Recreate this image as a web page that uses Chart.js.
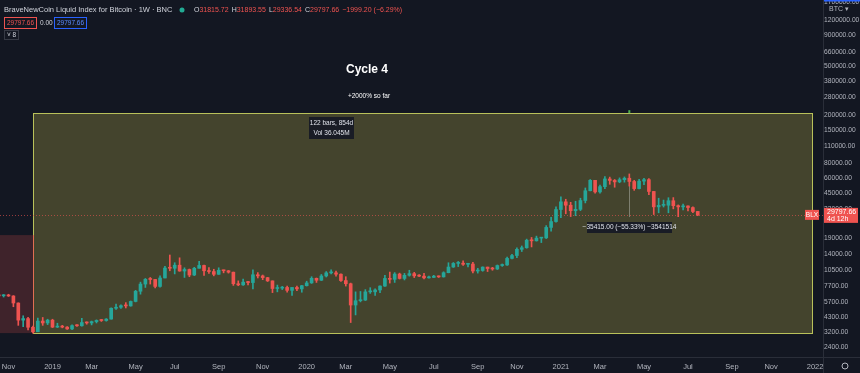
<!DOCTYPE html>
<html>
<head>
<meta charset="utf-8">
<title>BLX 1W</title>
<style>
  html, body { margin: 0; padding: 0; background: #131722; }
  #wrap { width: 860px; height: 373px; }
</style>
<script src="https://cdn.jsdelivr.net/npm/chart.js@4.4.0/dist/chart.umd.min.js"></script>
</head>
<body>
<div id="wrap"><canvas id="chart" width="860" height="373"></canvas></div>
<script>
// weekly candles, index 0 = week of 22 Oct 2018, last = week of 19 Jul 2021
var opens = [6410, 6400, 6420, 6380, 5580, 4030, 4150, 3520, 3230, 3960, 3820, 4030, 3530, 3550, 3530, 3410, 3630, 3620, 3850, 3820,
  3920, 4010, 4000, 4110, 5050, 5150, 5300, 5280, 5750, 6980, 8000, 8750, 8730, 7650, 8980, 10900, 10800, 11450, 10250, 10550,
  9500, 10800, 11400, 10300, 10150, 9630, 10400, 10300, 10030, 8050, 7880, 8300, 8230, 9550, 9340, 9040, 8500, 7350, 7400, 7500,
  7100, 7500, 7300, 7760, 8180, 8920, 8600, 9330, 9900, 9900, 9650, 8550, 8050, 5370, 5830, 5900, 6900, 6900, 7150, 7700,
  8900, 8750, 9680, 8900, 9450, 9750, 9350, 9300, 9000, 9080, 9300, 9170, 9930, 11060, 11850, 11900, 11650, 11700, 10250, 10350,
  11050, 10750, 10650, 11380, 11500, 13030, 13760, 15480, 15960, 18400, 18200, 19150, 19250, 23480, 26250, 33000, 38200, 35800, 32250, 33100,
  39150, 47150, 57450, 46100, 50950, 59000, 57350, 55800, 58200, 59800, 56200, 49100, 56600, 58200, 46500, 34700, 35700, 35800, 39000, 35500,
  34700, 35300, 34250, 31815.72];
var highs = [6480, 6560, 6590, 6420, 5600, 4380, 4250, 3600, 4200, 4240, 4100, 4100, 3800, 3650, 3560, 3680, 3700, 4180, 3900, 3960,
  4050, 4090, 4150, 5100, 5460, 5400, 5620, 5800, 7100, 8300, 8900, 9070, 8750, 9350, 11200, 13900, 12000, 13180, 10900, 10650,
  11000, 12300, 11450, 10950, 10600, 10900, 10450, 10360, 10050, 8500, 8800, 8420, 10500, 9950, 9500, 9090, 8500, 7850, 7650, 7700,
  7500, 7700, 7800, 8450, 9200, 8980, 9600, 10150, 10500, 10250, 9700, 9200, 8150, 6900, 6950, 7200, 7470, 7300, 7750, 9450,
  10050, 9950, 9850, 9800, 10400, 10000, 9600, 9800, 9300, 9450, 9350, 10100, 12000, 12050, 12300, 12450, 11800, 12100, 10800, 11100,
  11050, 11000, 11500, 11720, 13350, 14100, 15950, 16500, 18800, 19400, 19900, 19400, 24300, 28400, 34800, 41950, 40100, 37850, 38600, 40900,
  49700, 58350, 57500, 52600, 61800, 61100, 58400, 60200, 61300, 64900, 57500, 58500, 59600, 59500, 46600, 40900, 39500, 41300, 41400, 36000,
  36600, 35400, 34650, 31893.55];
var lows = [6330, 6250, 6320, 5200, 3650, 3560, 3350, 3150, 3230, 3650, 3700, 3500, 3500, 3480, 3380, 3370, 3570, 3600, 3730, 3680,
  3820, 3930, 3950, 4100, 4950, 5040, 5080, 5250, 5700, 6600, 7500, 8000, 7450, 7550, 8970, 10300, 9700, 10200, 9070, 9200,
  9400, 10800, 9450, 9800, 9350, 9600, 9900, 9850, 7800, 7750, 7800, 7860, 7300, 8980, 8700, 8400, 6800, 6900, 7200, 6850,
  6450, 7050, 6850, 7700, 8100, 8250, 8550, 9150, 9700, 9300, 8400, 7700, 3850, 4450, 5700, 5850, 6700, 6460, 6800, 7650,
  8150, 8250, 8800, 8650, 9300, 9050, 9200, 8830, 8950, 9050, 9070, 9130, 9900, 10980, 11150, 11400, 11100, 9900, 9850, 10200,
  10150, 10400, 10550, 11200, 11400, 12900, 13200, 14850, 15800, 16200, 18100, 17600, 19000, 21900, 26000, 28200, 30400, 28850, 29350, 32300,
  37400, 47000, 44950, 45000, 49150, 53300, 50400, 54900, 55500, 51500, 47500, 48800, 53000, 43800, 30000, 31000, 34600, 31000, 33400, 28800,
  32700, 32100, 31100, 29336.54];
var closes = [6400, 6420, 6380, 5580, 4030, 4150, 3520, 3230, 3960, 3820, 4030, 3530, 3550, 3530, 3410, 3630, 3620, 3850, 3820, 3920,
  4010, 4000, 4110, 5050, 5150, 5300, 5280, 5750, 6980, 8000, 8750, 8730, 7650, 8980, 10850, 10800, 11450, 10250, 10550, 9500,
  10800, 11400, 10300, 10150, 9630, 10400, 10300, 10030, 8050, 7880, 8300, 8230, 9550, 9340, 9040, 8500, 7350, 7400, 7500, 7100,
  7500, 7300, 7760, 8180, 8920, 8600, 9330, 9900, 9900, 9650, 8550, 8050, 5370, 5830, 5900, 6900, 6900, 7150, 7700, 8900,
  8750, 9680, 8900, 9450, 9750, 9350, 9300, 9000, 9080, 9300, 9170, 9930, 11060, 11850, 11900, 11650, 11700, 10250, 10350, 11050,
  10750, 10650, 11380, 11500, 13030, 13760, 15480, 15960, 18400, 18200, 19150, 19250, 23480, 26250, 33000, 38200, 35800, 32250, 33100, 39150,
  47150, 57450, 46100, 50950, 59000, 57350, 55800, 58200, 59800, 56200, 49100, 56600, 58200, 46500, 34700, 35700, 35800, 39000, 35500, 34700,
  35300, 34250, 31796.86, 29797.66];

// axis ticks
var monthWeeks = [2, 11, 19, 28, 36, 45, 54, 63, 71, 80, 89, 98, 106, 115, 123, 132, 141, 150, 158, 167];
var monthNames = ['Nov', '2019', 'Mar', 'May', 'Jul', 'Sep', 'Nov', '2020', 'Mar', 'May', 'Jul', 'Sep', 'Nov', '2021', 'Mar', 'May', 'Jul', 'Sep', 'Nov', '2022'];
var priceTicks = [2400, 3200, 4300, 5700, 7700, 10500, 14000, 19000, 33000, 45000, 60000, 80000, 110000, 150000,
  200000, 280000, 380000, 500000, 660000, 900000, 1200000, 1700000];

// drawings: [from week, to week, low price, high price]
var cycleBox = [7, 166.4, 3150, 206000];
var prevCycleBox = [-1, 7, 3150, 20300];
// price range tool: [week, from price, to price]
var priceRange = [129, 64007, 28592];

var UP = '#26a69a', DOWN = '#ef5350';
var FONT = "'Liberation Sans', Arial, sans-serif";

var n = closes.length;
var bodies = [], wicks = [], colors = [];
for (var i = 0; i < n; i++) {
    bodies.push({ x: i, y: [opens[i], closes[i]] });
    wicks.push({ x: i, y: [lows[i], highs[i]] });
    colors.push(closes[i] >= opens[i] ? UP : DOWN);
}

function text(ctx, s, x, y, font, color, align) {
    ctx.font = font;
    ctx.fillStyle = color;
    ctx.textAlign = align || 'left';
    ctx.textBaseline = 'middle';
    ctx.fillText(s, x, y);
    return ctx.measureText(s).width;
}

function fmt(v) {
    return v.toFixed(2);
}

function noPadding(scale) {
    scale.paddingLeft = 0;
    scale.paddingRight = 0;
    scale.paddingTop = 0;
    scale.paddingBottom = 0;
}

var drawings = {
    id: 'drawings',
    beforeDatasetsDraw: function (chart) {
        var ctx = chart.ctx, xs = chart.scales.x, ys = chart.scales.y, a = chart.chartArea;
        ctx.save();
        ctx.beginPath();
        ctx.rect(a.left, a.top, a.right - a.left, a.bottom - a.top);
        ctx.clip();

        var x0 = xs.getPixelForValue(cycleBox[0]), x1 = xs.getPixelForValue(cycleBox[1]);
        var yb = ys.getPixelForValue(cycleBox[2]), yt = ys.getPixelForValue(cycleBox[3]);
        ctx.fillStyle = 'rgba(215, 205, 80, 0.25)';
        ctx.fillRect(x0, yt, x1 - x0, yb - yt);
        ctx.strokeStyle = '#b9c15a';
        ctx.lineWidth = 1;
        ctx.strokeRect(Math.round(x0) + 0.5, Math.round(yt) + 0.5, Math.round(x1 - x0), Math.round(yb - yt));

        var px0 = xs.getPixelForValue(prevCycleBox[0]), px1 = xs.getPixelForValue(prevCycleBox[1]);
        var pyb = ys.getPixelForValue(prevCycleBox[2]), pyt = ys.getPixelForValue(prevCycleBox[3]);
        ctx.fillStyle = 'rgba(239, 83, 80, 0.2)';
        ctx.fillRect(px0, pyt, px1 - px0, pyb - pyt);
        ctx.strokeStyle = 'rgba(239, 83, 80, 0.75)';
        ctx.beginPath();
        ctx.moveTo(Math.round(px1) + 0.5, pyt);
        ctx.lineTo(Math.round(px1) + 0.5, pyb);
        ctx.stroke();

        // last price line
        var py = Math.round(ys.getPixelForValue(closes[n - 1])) + 0.5;
        ctx.strokeStyle = 'rgba(239, 83, 80, 0.6)';
        ctx.setLineDash([1, 2]);
        ctx.beginPath();
        ctx.moveTo(a.left, py);
        ctx.lineTo(a.right, py);
        ctx.stroke();
        ctx.setLineDash([]);

        // price range vertical
        var rx = Math.round(xs.getPixelForValue(priceRange[0])) + 0.5;
        ctx.strokeStyle = 'rgba(200, 200, 190, 0.45)';
        ctx.beginPath();
        ctx.moveTo(rx, ys.getPixelForValue(priceRange[1]));
        ctx.lineTo(rx, ys.getPixelForValue(priceRange[2]));
        ctx.stroke();
        ctx.restore();
    },
    afterDatasetsDraw: function (chart) {
        var ctx = chart.ctx, xs = chart.scales.x, ys = chart.scales.y;
        ctx.save();
        // date range end mark
        var gx = xs.getPixelForValue(priceRange[0]);
        var gy = ys.getPixelForValue(cycleBox[3]);
        ctx.fillStyle = '#4caf50';
        ctx.fillRect(gx - 1, gy - 3, 2, 3);

        text(ctx, 'Cycle 4', 367, 70, 'bold 12px ' + FONT, '#ffffff', 'center');
        text(ctx, '+2000% so far', 369, 96, '6.5px ' + FONT, '#ffffff', 'center');

        // date range label
        ctx.fillStyle = 'rgba(24, 27, 37, 0.95)';
        ctx.fillRect(309, 117, 45, 22);
        text(ctx, '122 bars, 854d', 331.5, 123, '6.5px ' + FONT, '#e0e3eb', 'center');
        text(ctx, 'Vol 36.045M', 331.5, 133, '6.5px ' + FONT, '#e0e3eb', 'center');

        // price range label
        var diff = priceRange[2] - priceRange[1];
        var pct = diff / priceRange[1] * 100;
        var s = '\u2212' + Math.abs(diff).toFixed(2) + ' (\u2212' + Math.abs(pct).toFixed(2) + '%) \u22123541514';
        ctx.fillStyle = 'rgba(24, 27, 37, 0.95)';
        ctx.fillRect(587, 222, 85, 11);
        text(ctx, s, 629.5, 227.5, '6.5px ' + FONT, '#e0e3eb', 'center');
        ctx.restore();
    },
    afterDraw: function (chart) {
        var ctx = chart.ctx, ys = chart.scales.y, a = chart.chartArea;
        var W = chart.width, H = chart.height;
        ctx.save();
        ctx.strokeStyle = '#2a2e39';
        ctx.lineWidth = 1;
        ctx.beginPath();
        ctx.moveTo(0, Math.round(a.bottom) + 0.5);
        ctx.lineTo(W, Math.round(a.bottom) + 0.5);
        ctx.moveTo(Math.round(a.right) + 0.5, 0);
        ctx.lineTo(Math.round(a.right) + 0.5, H);
        ctx.stroke();

        // last price label on axis
        var last = closes[n - 1];
        var py = ys.getPixelForValue(last);
        ctx.fillStyle = DOWN;
        ctx.fillRect(a.right + 1, py - 7, W - a.right - 3, 15);
        text(ctx, fmt(last), a.right + 4, py - 2.5, '7px ' + FONT, '#ffffff', 'left');
        text(ctx, '4d 12h', a.right + 4, py + 4, '7px ' + FONT, '#ffffff', 'left');
        ctx.fillStyle = DOWN;
        ctx.fillRect(a.right - 18, py - 5, 14, 10);
        text(ctx, 'BLX', a.right - 11, py, '6.5px ' + FONT, '#ffffff', 'center');

        // top right currency
        ctx.fillStyle = '#2962ff';
        ctx.fillRect(a.right + 1, 0, W - a.right, 1.5);
        ctx.fillStyle = '#131722';
        ctx.fillRect(a.right + 1, 4, W - a.right, 11);
        text(ctx, 'BTC \u25BE', a.right + 16, 9.5, '7px ' + FONT, '#b2b5be', 'center');

        // settings icon
        ctx.strokeStyle = '#b2b5be';
        ctx.beginPath();
        ctx.arc(845, 366, 3, 0, Math.PI * 2);
        ctx.stroke();

        // legend
        text(ctx, 'BraveNewCoin Liquid Index for Bitcoin \u00B7 1W \u00B7 BNC', 4, 10, '7.5px ' + FONT, '#d1d4dc');
        ctx.fillStyle = '#22ab94';
        ctx.beginPath();
        ctx.arc(182, 10, 2.5, 0, Math.PI * 2);
        ctx.fill();
        var x = 194;
        var parts = [['O', opens[n - 1]], ['H', highs[n - 1]], ['L', lows[n - 1]], ['C', closes[n - 1]]];
        parts.forEach(function (p) {
            x += text(ctx, p[0], x, 10, '7px ' + FONT, '#d1d4dc');
            x += text(ctx, fmt(p[1]), x, 10, '7px ' + FONT, DOWN) + 3;
        });
        var chg = closes[n - 1] - closes[n - 2];
        text(ctx, '\u2212' + Math.abs(chg).toFixed(2) + ' (\u2212' + Math.abs(chg / closes[n - 2] * 100).toFixed(2) + '%)', x, 10, '7px ' + FONT, DOWN);

        ctx.strokeStyle = DOWN;
        ctx.strokeRect(4.5, 17.5, 32, 11);
        text(ctx, fmt(last), 20.5, 23, '6.5px ' + FONT, DOWN, 'center');
        text(ctx, '0.00', 40, 23, '6.5px ' + FONT, '#d1d4dc');
        ctx.strokeStyle = '#2962ff';
        ctx.strokeRect(54.5, 17.5, 32, 11);
        text(ctx, fmt(last), 70.5, 23, '6.5px ' + FONT, '#5b8cff', 'center');

        ctx.strokeStyle = '#363a45';
        ctx.strokeRect(4.5, 30.5, 14, 9);
        text(ctx, '\u02C5 8', 11.5, 35, '6.5px ' + FONT, '#d1d4dc', 'center');
        ctx.restore();
    }
};

new Chart(document.getElementById('chart').getContext('2d'), {
    type: 'bar',
    data: {
        datasets: [{
            label: 'wick',
            data: wicks,
            backgroundColor: colors,
            barThickness: 1,
            grouped: false,
            order: 2
        }, {
            label: 'body',
            data: bodies,
            backgroundColor: colors,
            barThickness: 3,
            minBarLength: 1,
            grouped: false,
            order: 1
        }]
    },
    options: {
        responsive: false,
        animation: false,
        layout: { padding: 0 },
        plugins: {
            legend: { display: false },
            tooltip: { enabled: false }
        },
        scales: {
            x: {
                type: 'linear',
                bounds: 'data',
                min: 0.26,
                max: 168.62,
                offset: false,
                grid: { display: false, drawTicks: false },
                border: { display: false },
                afterBuildTicks: function (scale) {
                    scale.ticks = monthWeeks.map(function (w) { return { value: w }; });
                },
                afterFit: function (scale) {
                    scale.height = 16;
                    noPadding(scale);
                },
                ticks: {
                    autoSkip: false,
                    maxRotation: 0,
                    padding: 5,
                    color: '#b2b5be',
                    font: { family: FONT, size: 7.5 },
                    callback: function (v) {
                        var k = monthWeeks.indexOf(v);
                        return k >= 0 ? monthNames[k] : '';
                    }
                }
            },
            y: {
                type: 'logarithmic',
                position: 'right',
                bounds: 'data',
                min: 2000,
                max: 1770000,
                grid: { display: false, drawTicks: false },
                border: { display: false },
                afterBuildTicks: function (scale) {
                    scale.ticks = priceTicks.map(function (v) { return { value: v }; });
                },
                afterFit: function (scale) {
                    scale.width = 37;
                    noPadding(scale);
                },
                ticks: {
                    autoSkip: false,
                    padding: 1,
                    color: '#b2b5be',
                    font: { family: FONT, size: 6.7 },
                    callback: function (v) { return fmt(v); }
                }
            }
        }
    },
    plugins: [drawings]
});
</script>
</body>
</html>
